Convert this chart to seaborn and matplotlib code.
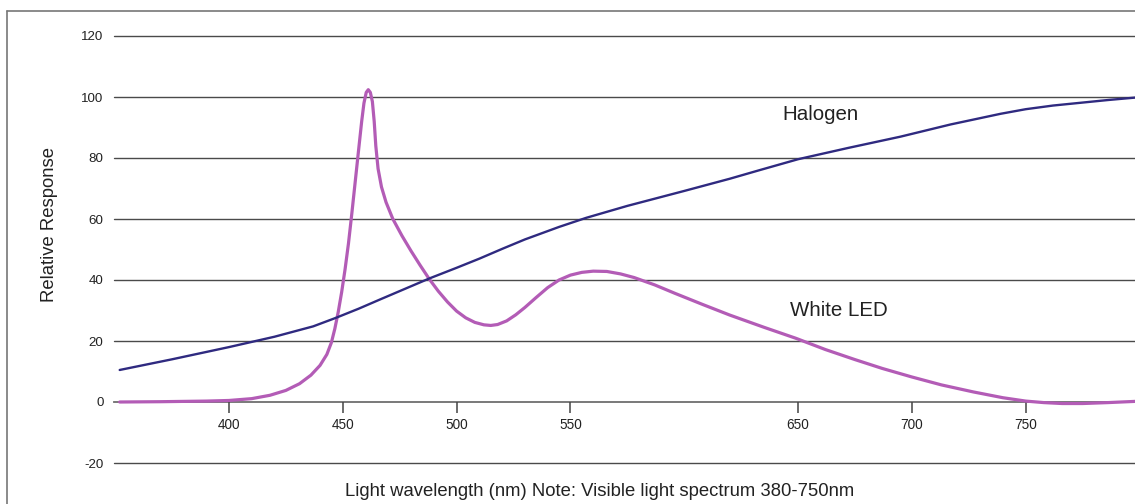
import pandas as pd
import seaborn as sns
import matplotlib.pyplot as plt
from matplotlib.lines import Line2D

# wavelength (nm) / relative response
halogen_nm = [352, 375, 400, 420, 437, 447, 457, 466, 477, 488, 500, 510, 520,
              530, 545, 557, 575, 600, 620, 633, 650, 672, 695, 717, 739, 750,
              762, 774, 786, 798]
halogen_val = [10.5, 14.0, 18.0, 21.4, 24.8, 27.6, 30.6, 33.5, 37.0, 40.5, 44.0,
               47.0, 50.2, 53.3, 57.4, 60.4, 64.3, 69.2, 73.2, 76.0, 79.6, 83.3,
               87.0, 91.0, 94.5, 96.0, 97.2, 98.1, 99.0, 99.8]

led_nm = [352, 370, 390, 400, 410, 418, 425, 431, 436, 440, 443, 445, 446.5,
          448, 449.5, 451, 452.5, 454, 455.5, 457, 458.3, 459.3, 460.3, 461.2,
          462.1, 463, 463.8, 464.5, 465.5, 467, 469, 472, 476, 480, 484, 488,
          492, 496, 500, 504, 508, 512, 515, 518, 522, 526, 530, 535, 540, 545,
          550, 555, 560, 566, 572, 578, 587, 596, 608, 620, 635, 649, 662, 675,
          687, 700, 713, 727, 740, 750, 758, 766, 775, 786, 798]
led_val = [0.0, 0.1, 0.3, 0.5, 1.1, 2.2, 3.8, 6.0, 8.8, 12.0, 15.6, 19.5, 24.0,
           29.5, 36.0, 43.5, 52.0, 62.0, 72.5, 83.0, 92.0, 98.0, 101.5, 102.4,
           101.5, 98.5, 92.0, 84.0, 76.5, 70.5, 65.5, 60.0, 54.5, 49.5, 44.8,
           40.3, 36.3, 32.8, 29.8, 27.6, 26.1, 25.3, 25.1, 25.4, 26.6, 28.6,
           31.0, 34.3, 37.5, 40.0, 41.6, 42.5, 42.9, 42.8, 42.0, 40.8, 38.4,
           35.6, 32.0, 28.5, 24.5, 20.9, 17.2, 13.9, 11.0, 8.2, 5.6, 3.3, 1.4,
           0.3, -0.2, -0.5, -0.5, -0.2, 0.2]

x_ticks = [400, 450, 500, 550, 650, 700, 750]
y_ticks = [-20, 0, 20, 40, 60, 80, 100, 120]

halogen = pd.DataFrame({"nm": halogen_nm, "val": halogen_val})
led = pd.DataFrame({"nm": led_nm, "val": led_val})

sns.set_style("white")
plt.rcParams['font.family'] = ['Liberation Sans', 'DejaVu Sans']

fig = plt.figure(figsize=(11.35, 5.04), dpi=100)
ax = fig.add_axes([114 / 1135, 1 - 463 / 504, 1 - 114 / 1135, (463 - 36) / 504])

sns.lineplot(data=led, x="nm", y="val", color="#b35cb6", linewidth=2.3,
             estimator=None, ax=ax)
sns.lineplot(data=halogen, x="nm", y="val", color="#2f2a80", linewidth=1.7,
             estimator=None, ax=ax)

ax.set_xlim(349.5, 798)
ax.set_ylim(-20, 120)
ax.set_xlabel("")
ax.set_ylabel("")

# horizontal grid lines
for y in y_ticks:
    if y != 0:
        ax.axhline(y, color="#4a4a4a", linewidth=1.0, zorder=0, clip_on=False)

for side in ["top", "right", "left"]:
    ax.spines[side].set_visible(False)
ax.spines["bottom"].set_position(("data", 0))
ax.spines["bottom"].set_color("#6e6e6e")
ax.spines["bottom"].set_linewidth(1.3)
ax.spines["bottom"].set_zorder(0)

ax.set_xticks(x_ticks)
ax.set_xticklabels([str(t) for t in x_ticks])
ax.set_yticks(y_ticks)
ax.set_yticklabels([str(t) for t in y_ticks])
ax.tick_params(axis="x", direction="out", length=8, width=1.1, color="#444444",
               pad=3.6, labelsize=9.8, labelcolor="#222222", bottom=True)
ax.tick_params(axis="y", length=0, pad=7.5, labelsize=9.6, labelcolor="#222222")

ax.text(643.2, 92.5, "Halogen", fontsize=14.8, color="#222222", va="baseline")
ax.text(646.4, 28.3, "White LED", fontsize=14.8, color="#222222", va="baseline")

fig.text(50 / 1135, 1 - 224.5 / 504, "Relative Response", rotation=90,
         ha="center", va="center", fontsize=13.3, color="#222222")
fig.text(600 / 1135, 1 - 492 / 504,
         "Light wavelength (nm) Note: Visible light spectrum 380-750nm",
         ha="center", va="center", fontsize=13.3, color="#222222")

# outer frame (left and top edges visible)
fig.add_artist(Line2D([7 / 1135, 7 / 1135], [0, 1 - 11 / 504],
                      transform=fig.transFigure, color="#777777", linewidth=1.2))
fig.add_artist(Line2D([7 / 1135, 1], [1 - 11 / 504, 1 - 11 / 504],
                      transform=fig.transFigure, color="#777777", linewidth=1.2))

fig.savefig("out.png", dpi=100)
